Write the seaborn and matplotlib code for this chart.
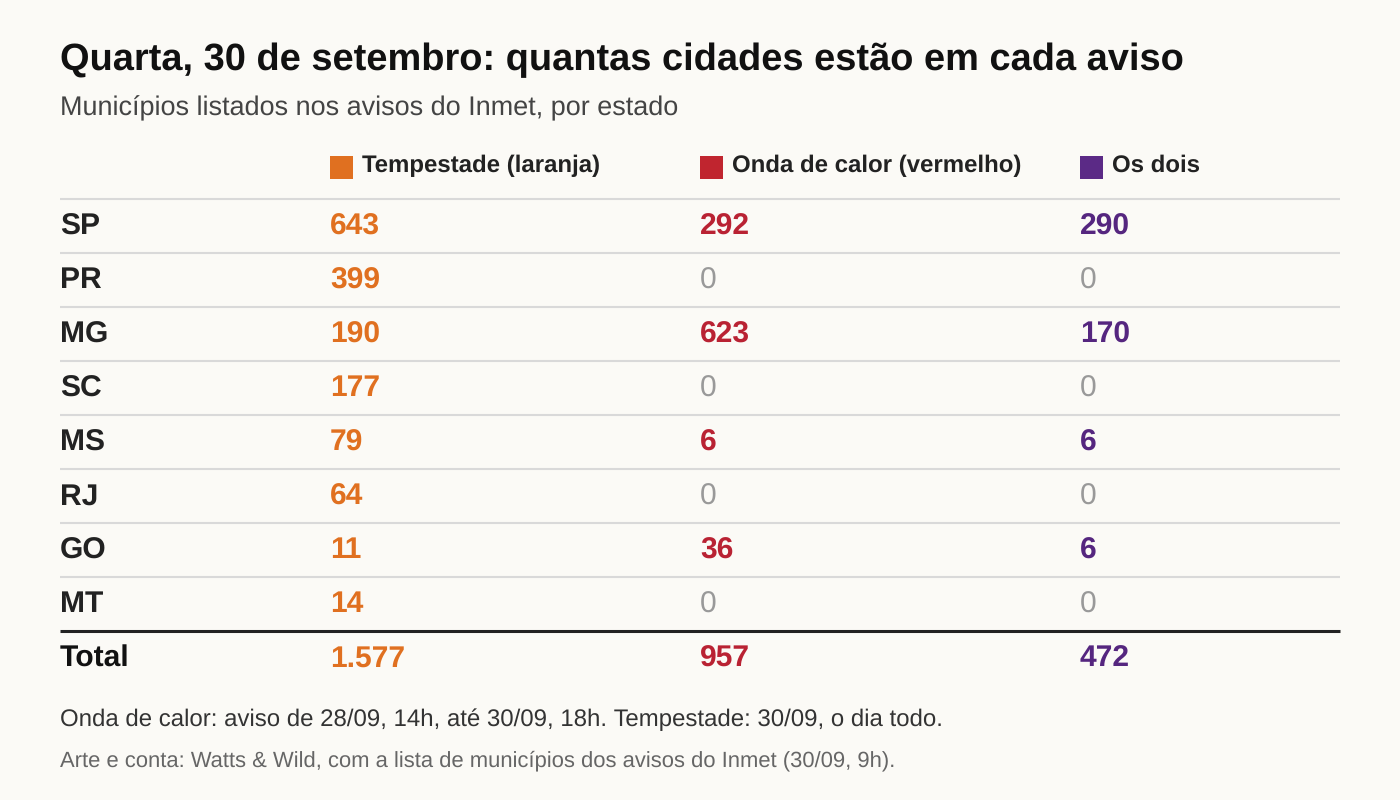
import matplotlib
matplotlib.use("Agg")
import matplotlib.pyplot as plt
from matplotlib.patches import Rectangle
import seaborn as sns

sns.set_theme(style="white")
plt.rcParams['font.family'] = ['Liberation Sans', 'DejaVu Sans']
plt.rcParams['text.hinting'] = 'no_hinting'
plt.rcParams['text.hinting_factor'] = 1

states = ["SP", "PR", "MG", "SC", "MS", "RJ", "GO", "MT"]
storm = ["643", "399", "190", "177", "79", "64", "11", "14"]
heat = ["292", "0", "623", "0", "6", "0", "36", "0"]
both = ["290", "0", "170", "0", "6", "0", "6", "0"]
totals = ["Total", "1.577", "957", "472"]
headers = ["Tempestade (laranja)", "Onda de calor (vermelho)", "Os dois"]
title = "Quarta, 30 de setembro: quantas cidades estão em cada aviso"
subtitle = "Municípios listados nos avisos do Inmet, por estado"
note = "Onda de calor: aviso de 28/09, 14h, até 30/09, 18h. Tempestade: 30/09, o dia todo."
source = "Arte e conta: Watts & Wild, com a lista de municípios dos avisos do Inmet (30/09, 9h)."

BG = "#FBFAF6"
fig = plt.figure(figsize=(14, 8), dpi=100, facecolor=BG)
ax = fig.add_axes([0, 0, 1, 1])
ax.set_xlim(0, 1400)
ax.set_ylim(800, 0)
ax.axis("off")

PT = 100 / 72
def T(x, y, s, px, color, weight="normal"):
    ax.text(x, y, s, fontsize=px / PT, color=color, fontweight=weight, va="baseline", ha="left")

def H(y, color, lw):
    ax.plot([60, 1340], [y, y], color=color, lw=lw, solid_capstyle="butt")

T(60, 70, title, 38.1, "#111111", "bold")
T(60, 115.5, subtitle, 27.4, "#444444")

cols = [330, 700, 1080]
col_colors = ["#E07020", "#C0252F", "#5B2A86"]
text_colors = ["#E07020", "#B92233", "#55267F"]
for x, h, c in zip(cols, headers, col_colors):
    ax.add_patch(Rectangle((x, 156), 23, 23, facecolor=c, edgecolor="none"))
    T(x + 32, 172, h, 24, "#222222", "bold")

H(199, "#D9D9D9", 1.5)
for i, s in enumerate(states):
    y = 234.5 + 54 * i
    T(60, y, s, 30.5, "#222222", "bold")
    for x, v, c in zip(cols, (storm[i], heat[i], both[i]), text_colors):
        if v == "0":
            T(x, y, v, 30.5, "#999999")
        else:
            T(x, y, v, 30.5, c, "bold")
    if i < len(states) - 1:
        H(199 + 54 * (i + 1), "#D9D9D9", 1.5)

H(631, "#222222", 2.2)
T(60, 666.5, totals[0], 30.5, "#111111", "bold")
for x, v, c in zip(cols, totals[1:], text_colors):
    T(x, 666.5, v, 30.5, c, "bold")

T(60, 726, note, 23.7, "#333333")
T(60, 766, source, 21.8, "#666666")

fig.savefig("out.png", dpi=100, facecolor=BG)
